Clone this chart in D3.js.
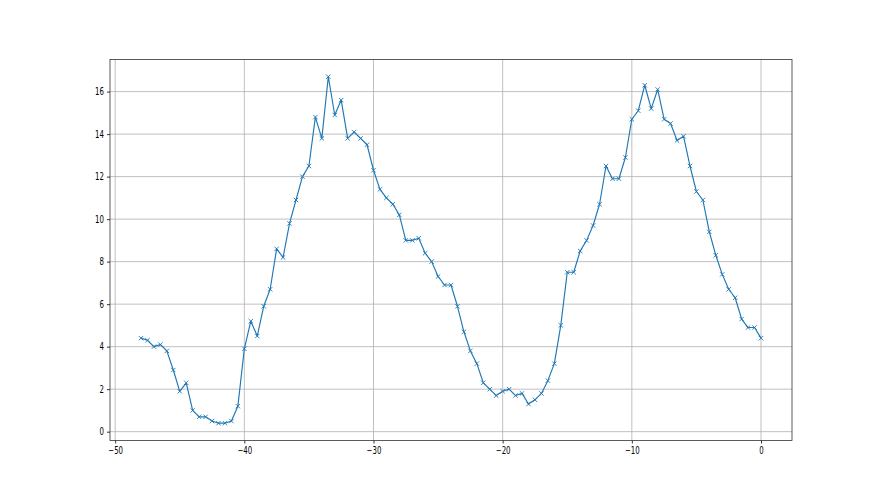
<!DOCTYPE html>
<html>
<head>
<meta charset="utf-8">
<script src="https://cdn.jsdelivr.net/npm/d3@7"></script>
<style>
    body { margin: 0; background: #fff; }
    svg { display: block; }
    .tick text { font-family: "DejaVu Sans", sans-serif; font-size: 10px; fill: #000; }
</style>
</head>
<body>
<svg id="chart"></svg>
<script>
// Data: x positions every half unit from -48 to 0
const x_values = [
    -48, -47.5, -47, -46.5, -46, -45.5, -45, -44.5, -44, -43.5, -43, -42.5, -42, -41.5, -41, -40.5,
    -40, -39.5, -39, -38.5, -38, -37.5, -37, -36.5, -36, -35.5, -35, -34.5, -34, -33.5, -33, -32.5,
    -32, -31.5, -31, -30.5, -30, -29.5, -29, -28.5, -28, -27.5, -27, -26.5, -26, -25.5, -25, -24.5,
    -24, -23.5, -23, -22.5, -22, -21.5, -21, -20.5, -20, -19.5, -19, -18.5, -18, -17.5, -17, -16.5,
    -16, -15.5, -15, -14.5, -14, -13.5, -13, -12.5, -12, -11.5, -11, -10.5, -10, -9.5, -9, -8.5,
    -8, -7.5, -7, -6.5, -6, -5.5, -5, -4.5, -4, -3.5, -3, -2.5, -2, -1.5, -1, -0.5, 0
];
const y_values = [
    4.4, 4.3, 4.0, 4.1, 3.8, 2.9, 1.9, 2.3, 1.0, 0.7, 0.7, 0.5, 0.4, 0.4, 0.5, 1.2,
    3.9, 5.2, 4.5, 5.9, 6.7, 8.6, 8.2, 9.8, 10.9, 12.0, 12.5, 14.8, 13.8, 16.7, 14.9, 15.6,
    13.8, 14.1, 13.8, 13.5, 12.3, 11.4, 11.0, 10.7, 10.2, 9.0, 9.0, 9.1, 8.4, 8.0, 7.3, 6.9,
    6.9, 5.9, 4.7, 3.8, 3.2, 2.3, 2.0, 1.7, 1.9, 2.0, 1.7, 1.8, 1.3, 1.5, 1.8, 2.4,
    3.2, 5.0, 7.5, 7.5, 8.5, 9.0, 9.7, 10.7, 12.5, 11.9, 11.9, 12.9, 14.7, 15.1, 16.3, 15.2,
    16.1, 14.7, 14.5, 13.7, 13.9, 12.5, 11.3, 10.9, 9.4, 8.3, 7.4, 6.7, 6.3, 5.3, 4.9, 4.9, 4.4
];
const x_ticks = [-50, -40, -30, -20, -10, 0];
const y_ticks = [0, 2, 4, 6, 8, 10, 12, 14, 16];

const points = x_values.map(function (x, i) { return [x, y_values[i]]; });

// Figure and axes box (matplotlib-like margins)
const width = 880, height = 495;
const margins = { top: 59.4, right: 88, bottom: 54.5, left: 110 };
const line_color = "#1f77b4";
const text_squeeze = 0.7;

// Padded domains like matplotlib autoscale (5% margins)
const x_min = d3.min(x_values), x_max = d3.max(x_values);
const y_min = d3.min(y_values), y_max = d3.max(y_values);
const x_pad = (x_max - x_min) * 0.05, y_pad = (y_max - y_min) * 0.05;

const x_scale = d3.scaleLinear()
    .domain([x_min - x_pad, x_max + x_pad])
    .range([margins.left, width - margins.right]);
const y_scale = d3.scaleLinear()
    .domain([y_min - y_pad, y_max + y_pad])
    .range([height - margins.bottom, margins.top]);

const svg = d3.select("#chart")
    .attr("width", width)
    .attr("height", height);

// Grid lines
svg.append("g")
    .selectAll("line")
    .data(x_ticks)
    .enter().append("line")
    .attr("x1", function (d) { return x_scale(d); })
    .attr("x2", function (d) { return x_scale(d); })
    .attr("y1", margins.top)
    .attr("y2", height - margins.bottom)
    .attr("stroke", "#b0b0b0")
    .attr("stroke-width", 0.8);
svg.append("g")
    .selectAll("line")
    .data(y_ticks)
    .enter().append("line")
    .attr("x1", margins.left)
    .attr("x2", width - margins.right)
    .attr("y1", function (d) { return y_scale(d); })
    .attr("y2", function (d) { return y_scale(d); })
    .attr("stroke", "#b0b0b0")
    .attr("stroke-width", 0.8);

// Axes
const x_axis = svg.append("g")
    .attr("transform", "translate(0," + (height - margins.bottom) + ")")
    .call(d3.axisBottom(x_scale).tickValues(x_ticks).tickSize(3).tickPadding(3).tickSizeOuter(0));
const y_axis = svg.append("g")
    .attr("transform", "translate(" + margins.left + ",0)")
    .call(d3.axisLeft(y_scale).tickValues(y_ticks).tickSize(3).tickPadding(3).tickSizeOuter(0));

[x_axis, y_axis].forEach(function (ax) {
    ax.select(".domain").remove();
    ax.selectAll(".tick line").attr("stroke", "#000").attr("stroke-width", 0.8);
});
x_axis.selectAll(".tick text")
    .attr("transform", "scale(" + text_squeeze + ",1)");
y_axis.selectAll(".tick text")
    .attr("x", -6 / text_squeeze)
    .attr("transform", "scale(" + text_squeeze + ",1)");

// Axes frame
svg.append("rect")
    .attr("x", margins.left)
    .attr("y", margins.top)
    .attr("width", width - margins.left - margins.right)
    .attr("height", height - margins.top - margins.bottom)
    .attr("fill", "none")
    .attr("stroke", "#333")
    .attr("stroke-width", 0.8);

// Data line
svg.append("path")
    .datum(points)
    .attr("fill", "none")
    .attr("stroke", line_color)
    .attr("stroke-width", 1.15)
    .attr("stroke-linejoin", "round")
    .attr("d", d3.line()
        .x(function (d) { return x_scale(d[0]); })
        .y(function (d) { return y_scale(d[1]); }));

// 'x' markers
const marker_size = 2.2;
svg.append("g")
    .selectAll("path")
    .data(points)
    .enter().append("path")
    .attr("fill", "none")
    .attr("stroke", line_color)
    .attr("stroke-width", 0.9)
    .attr("d", function (d) {
        const cx = x_scale(d[0]), cy = y_scale(d[1]), s = marker_size;
        return "M" + (cx - s) + "," + (cy - s) + "L" + (cx + s) + "," + (cy + s) +
            "M" + (cx - s) + "," + (cy + s) + "L" + (cx + s) + "," + (cy - s);
    });
</script>
</body>
</html>
